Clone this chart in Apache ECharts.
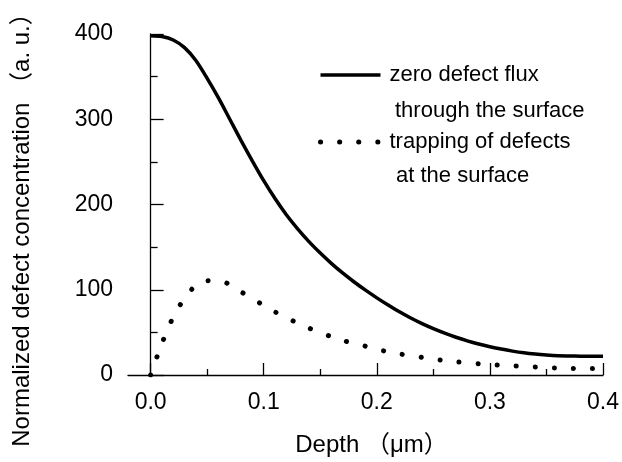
<!DOCTYPE html>
<html>
<head>
<meta charset="utf-8">
<script src="https://cdn.jsdelivr.net/npm/echarts@6/dist/echarts.min.js"></script>
<style>
  html, body { margin: 0; padding: 0; background: #fff; }
  #chart { width: 622px; height: 462px; }
</style>
</head>
<body>
<div id="chart"></div>
<script>
// depth in micrometres
var depth = [0, 0.01, 0.02, 0.03, 0.04, 0.05, 0.06, 0.07, 0.08, 0.09,
  0.10, 0.11, 0.12, 0.13, 0.14, 0.15, 0.16, 0.17, 0.18, 0.19,
  0.20, 0.21, 0.22, 0.23, 0.24, 0.25, 0.26, 0.27, 0.28, 0.29,
  0.30, 0.31, 0.32, 0.33, 0.34, 0.35, 0.36, 0.37, 0.38, 0.39, 0.40];

// zero defect flux through the surface
var zeroFlux = [398, 397, 393, 384, 369, 348, 325, 300, 275, 251,
  228, 207, 188, 171.5, 156.5, 143, 130.7, 119.4, 109.1, 99.5,
  90.5, 82.1, 74.1, 66.8, 60.2, 54.3, 49, 44.3, 40.1, 36.4,
  33.2, 30.4, 28, 26, 24.5, 23.4, 22.6, 22.3, 22.1, 22, 22];

// trapping of defects at the surface
var trapping = [0, 37, 68, 90, 105, 110.5, 111, 106, 97.5, 90,
  81.5, 74, 67, 61, 55, 49.5, 45, 40.5, 37, 33.8,
  30, 27.3, 24.7, 22.7, 20.6, 18.6, 17, 15.5, 14.4, 13.2,
  12.1, 11.4, 10.8, 10.1, 9.4, 8.6, 8.1, 7.7, 7.6, 7.5, 7.4];

var xMajor = [0, 0.1, 0.2, 0.3, 0.4];
var xMinor = [0.05, 0.15, 0.25, 0.35];

var font = '"Liberation Sans", Arial, "Noto Sans CJK SC", sans-serif';

function pairs(xs, ys) {
  return xs.map(function (x, i) { return [x, ys[i]]; });
}

var solidStyle = { color: '#000', width: 3.5 };
var dotStyle = { color: '#000', width: 5, type: [0.1, 19], cap: 'round' };

var myChart = echarts.init(document.getElementById('chart'));

var option = {
  backgroundColor: '#fff',
  animation: false,
  grid: { left: 128, right: 17, top: 34, bottom: 82 },
  legend: {
    orient: 'vertical',
    left: 313,
    top: 58,
    itemWidth: 60,
    itemHeight: 12,
    itemGap: 43,
    itemStyle: { opacity: 0 },
    textStyle: { fontFamily: font, fontSize: 22, color: '#000', lineHeight: 24, padding: [0, 0, 0, 4] },
    data: [
      { name: 'zero defect flux', lineStyle: { width: 3.5 } },
      { name: 'trapping of defects', lineStyle: { width: 5, type: [0.1, 19], cap: 'round' } }
    ]
  },
  xAxis: [
    {
      type: 'value',
      min: -0.02,
      max: 0.4,
      name: 'Depth （μm）',
      nameLocation: 'middle',
      nameGap: 58,
      nameTextStyle: { fontFamily: font, fontSize: 24, color: '#000', padding: [0, 0, 0, 12] },
      axisLine: { lineStyle: { color: '#000', width: 1.3 } },
      axisTick: { inside: true, length: 12, customValues: xMajor, lineStyle: { color: '#000', width: 1.3 } },
      axisLabel: {
        customValues: xMajor,
        margin: 16,
        fontFamily: font,
        fontSize: 23,
        color: '#000',
        formatter: function (v) { return v.toFixed(1); }
      },
      splitLine: { show: false }
    },
    {
      type: 'value',
      min: -0.02,
      max: 0.4,
      position: 'bottom',
      axisLine: { show: false },
      axisTick: { inside: true, length: 6, customValues: xMinor, lineStyle: { color: '#000', width: 1.3 } },
      axisLabel: { show: false },
      splitLine: { show: false }
    }
  ],
  yAxis: {
    type: 'value',
    min: 0,
    max: 400,
    interval: 100,
    axisLine: { show: true, lineStyle: { color: '#000', width: 1.3 } },
    axisTick: { show: true, inside: true, length: 13, lineStyle: { color: '#000', width: 1.3 } },
    minorTick: { show: true, splitNumber: 2, length: 7, lineStyle: { color: '#000', width: 1.3 } },
    axisLabel: { margin: 15, fontFamily: font, fontSize: 23, color: '#000' },
    splitLine: { show: false }
  },
  graphic: [
    {
      type: 'text',
      left: 395,
      top: 100,
      style: { text: 'through the surface', fontFamily: font, fontSize: 22, fill: '#000' }
    },
    {
      type: 'text',
      left: 396,
      top: 165,
      style: { text: 'at the surface', fontFamily: font, fontSize: 22, fill: '#000' }
    },
    {
      type: 'text',
      x: 22,
      y: 224,
      rotation: Math.PI / 2,
      style: {
        text: 'Normalized defect concentration （a. u.）',
        fontFamily: font,
        fontSize: 24,
        fill: '#000',
        align: 'center',
        verticalAlign: 'middle'
      }
    }
  ],
  series: [
    {
      name: 'zero defect flux',
      type: 'line',
      xAxisIndex: 0,
      symbol: 'none',
      smooth: 0.3,
      lineStyle: solidStyle,
      itemStyle: { color: '#000' },
      data: pairs(depth, zeroFlux)
    },
    {
      name: 'trapping of defects',
      type: 'line',
      xAxisIndex: 0,
      symbol: 'none',
      smooth: 0.3,
      lineStyle: dotStyle,
      itemStyle: { color: '#000' },
      data: pairs(depth, trapping)
    }
  ]
};

option && myChart.setOption(option);
</script>
</body>
</html>
